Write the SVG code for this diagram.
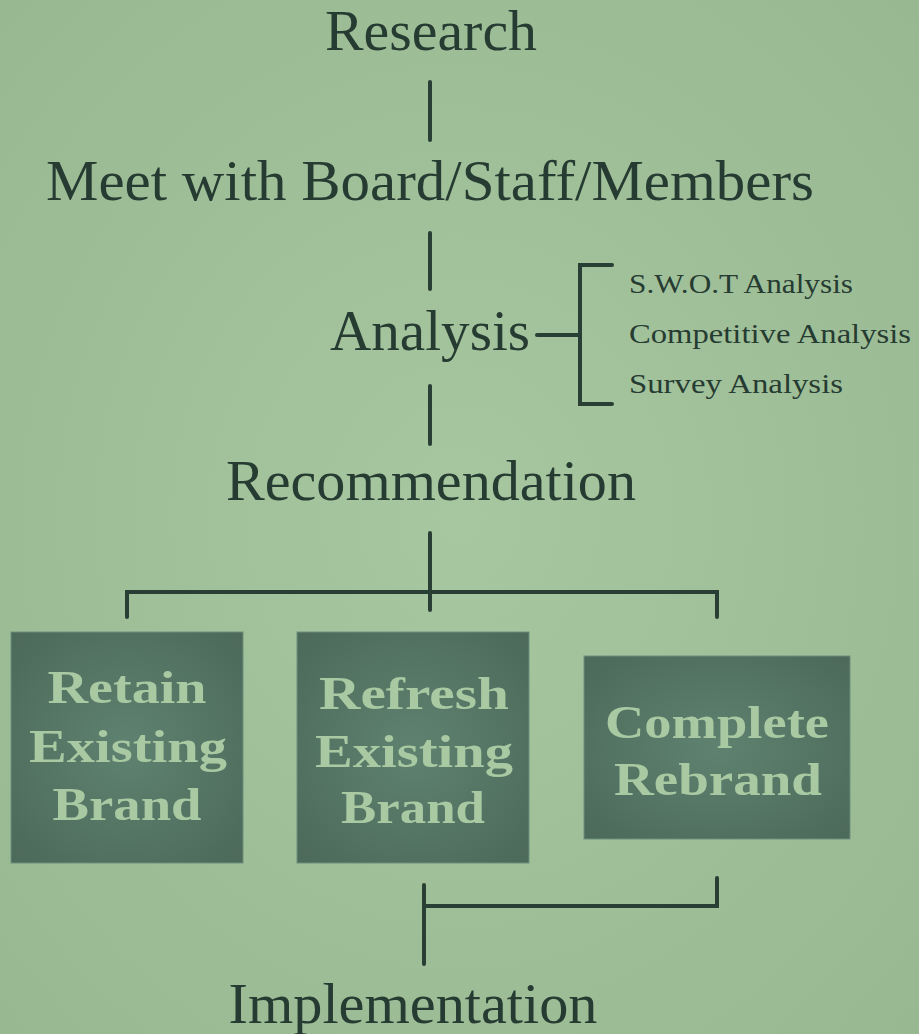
<svg xmlns="http://www.w3.org/2000/svg" width="919" height="1034" viewBox="0 0 919 1034">
  <defs>
    <radialGradient id="bg" cx="0.5" cy="0.5" r="0.75">
      <stop offset="0" stop-color="#a7c7a1"/>
      <stop offset="1" stop-color="#97b791"/>
    </radialGradient>
    <radialGradient id="boxFill" cx="0.5" cy="0.5" r="0.7">
      <stop offset="0" stop-color="#5f8270"/>
      <stop offset="1" stop-color="#4c695a"/>
    </radialGradient>
    <style>
      .step { font-family: "Liberation Serif", "Times New Roman", serif; font-size: 57px; fill: #263b31; text-anchor: middle; }
      .sub { font-family: "Liberation Serif", "Times New Roman", serif; font-size: 28px; fill: #263b31; }
      .box { fill: url(#boxFill); stroke: #6d8f7c; stroke-width: 1; }
      .boxText { font-family: "Liberation Serif", "Times New Roman", serif; font-weight: bold; font-size: 47px; fill: #a8c9a2; text-anchor: middle; }
      .link { fill: none; stroke: #293e34; stroke-width: 4; stroke-linecap: round; stroke-linejoin: miter; }
    </style>
  </defs>

  <rect width="919" height="1034" fill="url(#bg)"/>

  <!-- connectors -->
  <g id="connectors">
    <line class="link" x1="430" y1="82" x2="430" y2="140"/>
    <line class="link" x1="430" y1="233" x2="430" y2="289"/>
    <line class="link" x1="430" y1="386" x2="430" y2="444"/>
    <line class="link" x1="537" y1="335" x2="580" y2="335"/>
    <path class="link" d="M612 265 H580 V404 H612"/>
    <line class="link" x1="430" y1="533" x2="430" y2="610"/>
    <path class="link" d="M127 617 V592 H717 V617"/>
    <path class="link" d="M717 878 V906 H424"/>
    <line class="link" x1="424" y1="885" x2="424" y2="964"/>
  </g>

  <!-- process steps -->
  <g id="research">
    <text class="step" x="431" y="50" textLength="212" lengthAdjust="spacingAndGlyphs">Research</text>
  </g>
  <g id="meet">
    <text class="step" x="430" y="200" textLength="768" lengthAdjust="spacingAndGlyphs">Meet with Board/Staff/Members</text>
  </g>
  <g id="analysis">
    <text class="step" x="430" y="350" textLength="200" lengthAdjust="spacingAndGlyphs">Analysis</text>
  </g>
  <g id="analysis-items">
    <text class="sub" x="629" y="293" textLength="224" lengthAdjust="spacingAndGlyphs">S.W.O.T Analysis</text>
    <text class="sub" x="629" y="343" textLength="282" lengthAdjust="spacingAndGlyphs">Competitive Analysis</text>
    <text class="sub" x="629" y="393" textLength="214" lengthAdjust="spacingAndGlyphs">Survey Analysis</text>
  </g>
  <g id="recommendation">
    <text class="step" x="431" y="500" textLength="410" lengthAdjust="spacingAndGlyphs">Recommendation</text>
  </g>

  <!-- options -->
  <g id="retain">
    <rect class="box" x="11" y="632" width="232" height="231"/>
    <text class="boxText" x="127" y="703" textLength="159" lengthAdjust="spacingAndGlyphs">Retain</text>
    <text class="boxText" x="128" y="762" textLength="198" lengthAdjust="spacingAndGlyphs">Existing</text>
    <text class="boxText" x="127" y="820" textLength="149" lengthAdjust="spacingAndGlyphs">Brand</text>
  </g>
  <g id="refresh">
    <rect class="box" x="297" y="632" width="232" height="231"/>
    <text class="boxText" x="414" y="709" textLength="190" lengthAdjust="spacingAndGlyphs">Refresh</text>
    <text class="boxText" x="414" y="767" textLength="198" lengthAdjust="spacingAndGlyphs">Existing</text>
    <text class="boxText" x="413" y="823" textLength="144" lengthAdjust="spacingAndGlyphs">Brand</text>
  </g>
  <g id="rebrand">
    <rect class="box" x="584" y="656" width="266" height="183"/>
    <text class="boxText" x="717" y="738" textLength="224" lengthAdjust="spacingAndGlyphs">Complete</text>
    <text class="boxText" x="718" y="795" textLength="208" lengthAdjust="spacingAndGlyphs">Rebrand</text>
  </g>

  <g id="implementation">
    <text class="step" x="413" y="1023" textLength="369" lengthAdjust="spacingAndGlyphs">Implementation</text>
  </g>
</svg>
